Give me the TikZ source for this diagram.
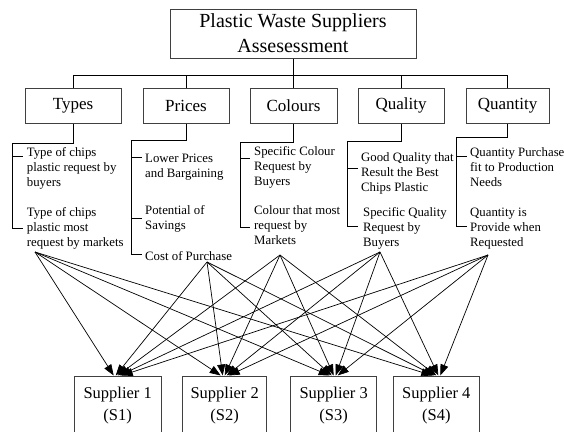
\documentclass[tikz,border=0pt]{standalone}
\usepackage{fontspec}
\setmainfont{Liberation Serif}
\usetikzlibrary{arrows.meta}
\tikzset{
  boxbase/.style={draw=black!75, line width=1pt, rectangle, inner sep=0pt, align=center},
  titlebox/.style={boxbase, minimum width=246pt, minimum height=49pt, font=\fontsize{20}{25}\selectfont},
  catbox/.style={boxbase, minimum height=35pt, font=\fontsize{17}{20}\selectfont},
  supbox/.style={boxbase, minimum height=60pt, font=\fontsize{16.5}{22}\selectfont},
  desc/.style={anchor=north west, inner sep=0pt, align=left, font=\fontsize{12.8}{15}\selectfont},
  conn/.style={draw=black, line width=0.8pt},
  arr/.style={draw=black, line width=0.7pt, -{Triangle[length=11pt,width=8pt]}}
}
\newcommand{\fl}{\rule{0pt}{10pt}}
\begin{document}
\begin{tikzpicture}[x=1pt,y=-1pt]
\useasboundingbox (0,0) rectangle (564,431);
\clip (0,0) rectangle (564,431);

% title
\node[titlebox] (title) at (293,33.5) {Plastic Waste Suppliers\\Assesessment};

% categories
\node[catbox, minimum width=96pt] (types) at (73,105.5) {Types};
\node[catbox, minimum width=86pt] (prices) at (186,105.5) {Prices};
\node[catbox, minimum width=87pt] (colours) at (293.5,105.5) {Colours};
\node[catbox, minimum width=86pt] (quality) at (401,105.5) {Quality};
\node[catbox, minimum width=83pt] (quantity) at (507.5,105.5) {Quantity};

\coordinate (bar) at (293,75.7);
\draw[conn] (title.south) -- (bar);
\draw[conn] (types.north) |- (bar) -| (quantity.north);
\draw[conn] (prices.north) -- (prices.north |- bar);
\draw[conn] (colours.north) -- (colours.north |- bar);
\draw[conn] (quality.north) -- (quality.north |- bar);

% descriptions
\node[desc] (t1) at (26.7,146) {\fl Type of chips\\plastic request by\\buyers};
\node[desc] (t2) at (26.7,206) {\fl Type of chips\\plastic most\\request by markets};
\node[desc] (p1) at (145,152.5) {\fl Lower Prices\\and Bargaining};
\node[desc] (p2) at (145,204) {\fl Potential of\\Savings};
\node[desc] (p3) at (145,250) {\fl Cost of Purchase};
\node[desc] (c1) at (254,145) {\fl Specific Colour\\Request by\\Buyers};
\node[desc] (c2) at (254,204) {\fl Colour that most\\request by\\Markets};
\node[desc] (q1) at (361,151) {\fl Good Quality that\\Result the Best\\Chips Plastic};
\node[desc] (q2) at (363,206) {\fl Specific Quality\\Request by\\Buyers};
\node[desc] (n1) at (470,146) {\fl Quantity Purchase\\fit to Production\\Needs};
\node[desc] (n2) at (470,206) {\fl Quantity is\\Provide when\\Requested};

% brackets
\draw[conn] (types.south) |- (12.3,143) -- (12.3,228.3) -- (23,228.3);
\draw[conn] (12.3,156.7) -- (23,156.7);
\draw[conn] (prices.south) |- (131.7,140) -- (131.7,254) -- (142,254);
\draw[conn] (131.7,157.3) -- (142,157.3);
\draw[conn] (131.7,218.3) -- (142,218.3);
\draw[conn] (colours.south) |- (240,142.7) -- (240,227.3) -- (250,227.3);
\draw[conn] (240,158.3) -- (250,158.3);
\draw[conn] (quality.south) |- (347.3,141.7) -- (347.3,226.7) -- (358,226.7);
\draw[conn] (347.3,168.3) -- (358,168.3);
\draw[conn] (quantity.south) |- (456.5,137.3) -- (456.5,226.7) -- (467,226.7);
\draw[conn] (456.5,156) -- (467,156);

% suppliers
\node[supbox, minimum width=87pt] (s1) at (117.7,406) {Supplier 1\\(S1)};
\node[supbox, minimum width=84pt] (s2) at (224.7,406) {Supplier 2\\(S2)};
\node[supbox, minimum width=86pt] (s3) at (333.7,406) {Supplier 3\\(S3)};
\node[supbox, minimum width=86pt] (s4) at (436.3,406) {Supplier 4\\(S4)};

% arrow sources
\coordinate (srcT) at (35,252);
\coordinate (srcP) at (207,262);
\coordinate (srcC) at (280,255);
\coordinate (srcQl) at (380,252);
\coordinate (srcQn) at (488,255);

\foreach \s/\o in {srcT/-4, srcP/-2, srcC/0, srcQl/2, srcQn/4}
  \foreach \t in {s1,s2,s3,s4}
    \draw[arr] (\s) -- ([xshift=\o pt]\t.north);
\end{tikzpicture}
\end{document}
